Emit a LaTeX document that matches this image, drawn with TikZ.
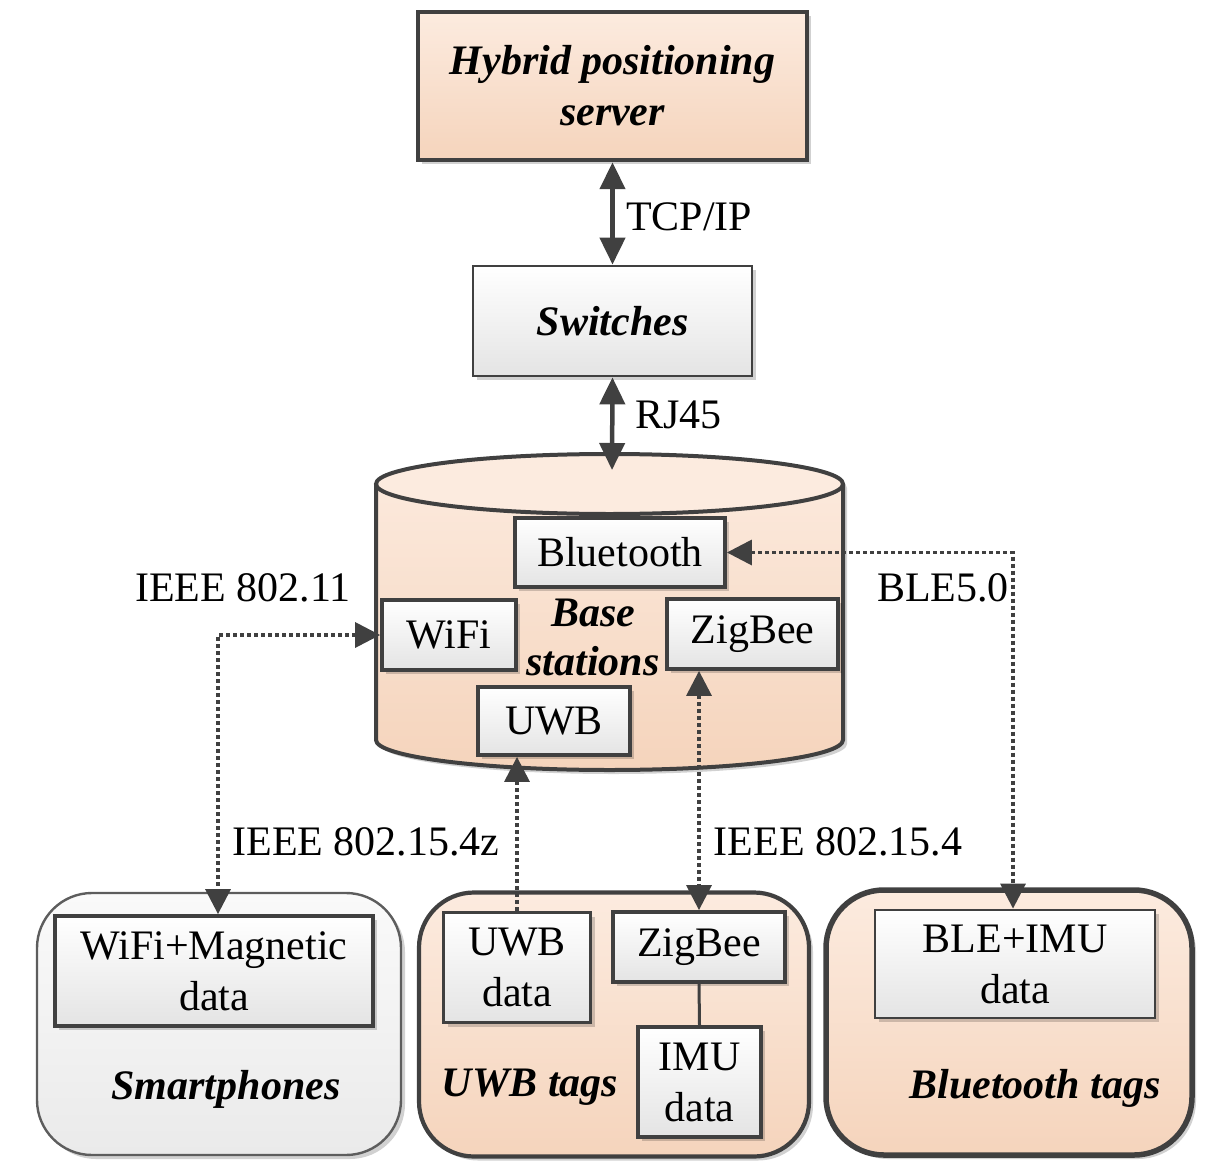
\documentclass[tikz,border=0pt]{standalone}
\usepackage{fontspec}
\setmainfont{Liberation Serif}
\usetikzlibrary{arrows.meta,shadows}
\definecolor{linec}{HTML}{404040}
\definecolor{peachtop}{HTML}{FCEBDF}
\definecolor{peachbot}{HTML}{F5D4BC}
\definecolor{graybot}{HTML}{E4E4E4}
\definecolor{phonetop}{HTML}{FAFAFA}
\definecolor{phonebot}{HTML}{EAEAEA}
\newcommand{\fsz}{\fontsize{42}{51}\selectfont}
\tikzset{
  x=1pt, y=-1pt,
  every node/.style={font=\fsz, text=black, inner sep=0pt, align=center},
  shad/.style={drop shadow={shadow xshift=4pt, shadow yshift=-4pt, fill=black, opacity=0.18}},
  graybox/.style={draw=linec, line width=3.8pt, top color=white, bottom color=graybot, shad},
  peachbox/.style={draw=linec, top color=peachtop, bottom color=peachbot, shad},
  titletext/.style={font=\fsz\bfseries\itshape},
  stip/.tip={Triangle[length=27pt,width=25pt]},
  dtip/.tip={Triangle[length=25pt,width=25pt]},
  solidarrow/.style={draw=linec, line width=4.5pt, stip-stip},
  dotline/.style={draw=linec, line width=3.4pt, dash pattern=on 4pt off 3pt},
}
\begin{document}
\begin{tikzpicture}
\useasboundingbox (0,0) rectangle (1212,1169);

% ---------- server and switches ----------
\node[peachbox, line width=4.5pt, minimum width=389pt, minimum height=148pt, titletext] (server) at (612.5,86) {Hybrid positioning\\server};
\node[graybox, line width=2.8pt, minimum width=279pt, minimum height=110pt, titletext] (switches) at (612.5,321) {Switches};

% ---------- cylinder (base stations) ----------
\fill[top color=peachtop, bottom color=peachbot, shad]
  (376,484) -- (376,740) arc[start angle=180, end angle=0, x radius=233.5, y radius=30]
  -- (843,484) arc[start angle=0, end angle=-180, x radius=233.5, y radius=30] -- cycle;
\draw[linec, line width=4pt] (376,484) -- (376,740) arc[start angle=180, end angle=0, x radius=233.5, y radius=30] -- (843,484);
\draw[linec, line width=4pt, fill=peachtop] (609.5,484) ellipse[x radius=233.5, y radius=30];
\coordinate (cyltop) at (612,470);

\node[graybox, minimum width=210pt, minimum height=69pt] (bt) at (620,552.5) {Bluetooth};
\node[graybox, minimum width=134pt, minimum height=70pt] (wifi) at (449,635) {WiFi};
\node[graybox, minimum width=171pt, minimum height=70pt] (zigbee) at (752.5,634) {ZigBee};
\node[graybox, minimum width=152pt, minimum height=68pt] (uwb) at (554,721) {UWB};
\node[titletext, font=\fontsize{42}{49}\selectfont\bfseries\itshape] (bslabel) at (593,637) {Base\\stations};

% ---------- bottom containers ----------
\node[draw=linec!85, line width=2.4pt, rounded corners=55pt, top color=phonetop, bottom color=phonebot, shad, minimum width=364pt, minimum height=262pt] (phones) at (219,1024) {};
\node[graybox, minimum width=318pt, minimum height=110pt] (wifimag) at (214,971) {WiFi+Magnetic\\data};
\node[titletext] (phoneslabel) at (226,1089) {Smartphones};

\node[peachbox, line width=4.2pt, rounded corners=55pt, minimum width=390pt, minimum height=264pt] (uwbtags) at (614,1024.5) {};
\node[graybox, minimum width=147pt, minimum height=110pt] (uwbdata) at (517,967.5) {UWB\\data};
\node[graybox, minimum width=172pt, minimum height=70pt] (zigtag) at (699,947) {ZigBee};
\node[graybox, minimum width=123pt, minimum height=110pt] (imu) at (699.5,1082) {IMU\\data};
\node[titletext] (uwblabel) at (530,1087) {UWB tags};
\draw[linec, line width=3pt] (zigtag.south) -- (imu.north);

\node[peachbox, line width=5.5pt, rounded corners=58pt, minimum width=366pt, minimum height=265pt] (bttags) at (1009,1022.5) {};
\node[graybox, line width=2.8pt, minimum width=280pt, minimum height=108pt] (bleimu) at (1015,964) {BLE+IMU\\data};
\node[titletext] (btlabel) at (1035,1088) {Bluetooth tags};

% ---------- solid links ----------
\draw[solidarrow] (server.south) -- (switches.north);
\node[anchor=west] (tcp) at (626,217) {TCP/IP};
\draw[solidarrow] (switches.south) -- (cyltop);
\node[anchor=west] (rj) at (635,415) {RJ45};

% ---------- wireless links ----------
\draw[dotline, dtip-dtip] (wifi.west) -| ([xshift=4pt]wifimag.north);
\node (l80211) at (243,588) {IEEE 802.11};

\draw[dotline, -dtip] (uwbdata.north) -- (uwbdata.north |- uwb.south);
\node (l154z) at (366,842) {IEEE 802.15.4z};

\draw[dotline, dtip-dtip] (zigtag.north |- zigbee.south) -- (zigtag.north);
\node (l154) at (838,842) {IEEE 802.15.4};

\draw[dotline, dtip-dtip] (bt.east) -| ([xshift=-2pt]bleimu.north);
\node (lble) at (943,588) {BLE5.0};
\end{tikzpicture}
\end{document}
